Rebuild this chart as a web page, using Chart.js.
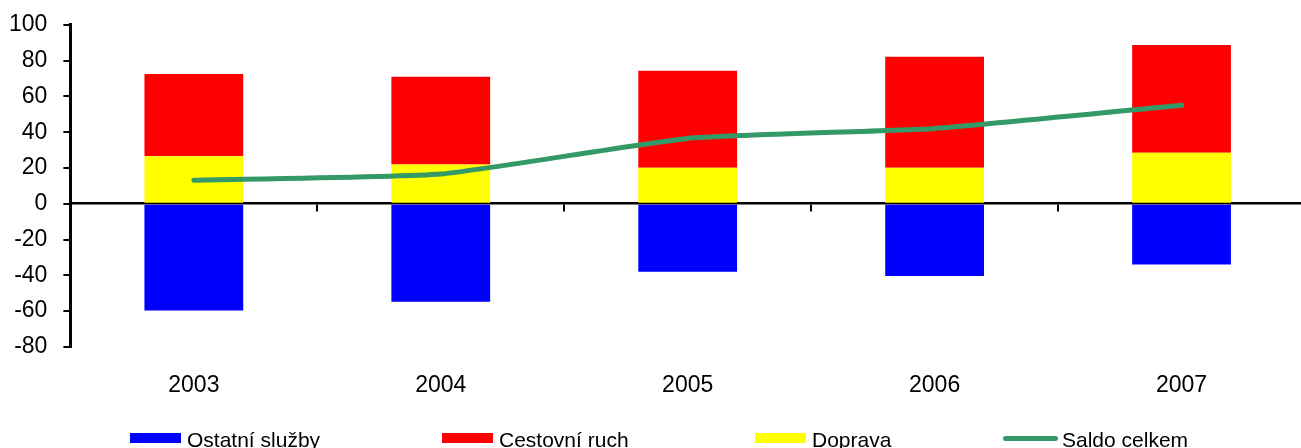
<!DOCTYPE html>
<html>
<head>
<meta charset="utf-8">
<script src="https://cdn.jsdelivr.net/npm/chart.js@4.4.1/dist/chart.umd.min.js"></script>
<style>
  html, body { margin: 0; padding: 0; background: #fff; overflow: hidden; }
  #wrap { position: relative; width: 1310px; height: 448px; overflow: hidden; }
  #chart { position: absolute; left: 0; top: -5px; }
  .lg-box { position: absolute; }
  .lg-text { position: absolute; font-family: "Liberation Sans", Arial, sans-serif; font-size: 21px; line-height: 21px; color: #000; white-space: nowrap; }
</style>
</head>
<body>
<div id="wrap">
  <canvas id="chart" width="1310" height="453"></canvas>
  <div id="legend"></div>
</div>
<script>
// Služby – saldo po složkách (mld. Kč)
const years = ['2003', '2004', '2005', '2006', '2007'];
const ostatniSluzby = [-59.6, -54.7, -38.0, -40.4, -33.9];
const cestovniRuch = [45.9, 48.9, 54.2, 62.0, 60.2];
const doprava = [26.6, 22.0, 20.1, 20.1, 28.5];
const saldoCelkem = [13.1, 16.6, 36.5, 42.1, 55.1];
const yTicks = [-80, -60, -40, -20, 0, 20, 40, 60, 80, 100];

const FONT = '"Liberation Sans", Arial, sans-serif';
const GREEN = '#339966';

const chart = new Chart(document.getElementById('chart'), {
  type: 'bar',
  data: {
    labels: years,
    datasets: [
      { label: 'Ostatní služby', data: ostatniSluzby, backgroundColor: '#0000ff', order: 3, stack: 's' },
      { label: 'Cestovní ruch', data: cestovniRuch, backgroundColor: '#ff0000', order: 2, stack: 's' },
      { label: 'Doprava', data: doprava, backgroundColor: '#ffff00', order: 1, stack: 's' },
      {
        type: 'line', label: 'Saldo celkem', data: saldoCelkem, order: 0,
        borderColor: GREEN, backgroundColor: GREEN, borderWidth: 5,
        borderCapStyle: 'round', borderJoinStyle: 'round',
        pointRadius: 0, tension: 0.15, fill: false
      }
    ]
  },
  options: {
    responsive: false,
    animation: false,
    devicePixelRatio: 1,
    layout: { padding: { left: -7, right: 5, top: 7.5, bottom: 31.5 } },
    datasets: { bar: { barPercentage: 0.4, categoryPercentage: 1.0, borderWidth: 0 } },
    plugins: { legend: { display: false }, tooltip: { enabled: false } },
    scales: {
      x: {
        type: 'category',
        stacked: true,
        offset: true,
        grid: { display: false },
        border: { display: false },
        ticks: { color: '#000', font: { family: FONT, size: 23 }, padding: 17, maxRotation: 0 }
      },
      x0: {
        type: 'category',
        position: { y: 0 },
        offset: true,
        grid: { offset: true, drawOnChartArea: false, drawTicks: true, tickLength: 7, color: '#000', lineWidth: 2 },
        border: { display: true, color: '#000', width: 2.5 },
        ticks: { display: false }
      },
      y: {
        stacked: true,
        min: -80,
        max: 100,
        afterBuildTicks: (scale) => { scale.ticks = yTicks.map(v => ({ value: v })); },
        grid: { drawOnChartArea: false, drawTicks: true, tickLength: 7, color: '#000', lineWidth: 2 },
        border: { display: true, color: '#000', width: 3 },
        ticks: { color: '#000', font: { family: FONT, size: 23 }, padding: 16 }
      }
    }
  }
});

// Legenda pod grafem, sestavená z datových řad
const legendX = [130, 442, 755, 1003];
const legendEl = document.getElementById('legend');
chart.data.datasets.forEach((ds, i) => {
  const x = legendX[i];
  const sym = document.createElement('div');
  sym.className = 'lg-box';
  if (ds.type === 'line') {
    Object.assign(sym.style, { left: x + 'px', top: '436px', width: '55px', height: '5px',
      background: ds.borderColor, borderRadius: '3px' });
  } else {
    Object.assign(sym.style, { left: x + 'px', top: '433px', width: '51px', height: '10px',
      background: ds.backgroundColor });
  }
  legendEl.appendChild(sym);
  const txt = document.createElement('div');
  txt.className = 'lg-text';
  txt.textContent = ds.label;
  txt.style.left = (x + (ds.type === 'line' ? 59 : 57)) + 'px';
  txt.style.top = '429px';
  legendEl.appendChild(txt);
});
</script>
</body>
</html>
